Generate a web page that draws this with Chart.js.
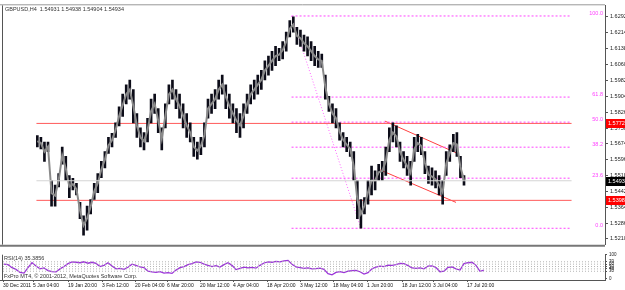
<!DOCTYPE html>
<html>
<head>
<meta charset="utf-8">
<script src="https://cdn.jsdelivr.net/npm/chart.js@4.4.0/dist/chart.umd.min.js"></script>
<style>
  body { margin: 0; background: #fff; }
  #wrap { position: relative; width: 625px; height: 290px; overflow: hidden; }
  #main { position: absolute; left: 0; top: 0; }
  #rsi { position: absolute; left: 0; top: 250px; }
</style>
</head>
<body>
<div id="wrap">
  <canvas id="main" width="625" height="250"></canvas>
  <canvas id="rsi" width="625" height="40"></canvas>
</div>
<script>
// GBPUSD H4, one high/low range per column
var highs = [1.5714, 1.5705, 1.5682, 1.5682, 1.5495, 1.5472, 1.5528, 1.5658, 1.5612, 1.5519,
  1.5505, 1.5481, 1.5388, 1.5323, 1.5370, 1.5402, 1.5481, 1.5528, 1.5588, 1.5635,
  1.5705, 1.5724, 1.5775, 1.5854, 1.5915, 1.5961, 1.5984, 1.5938, 1.5821, 1.5751,
  1.5728, 1.5798, 1.5891, 1.5915, 1.5845, 1.5751, 1.5868, 1.5961, 1.5984, 1.5938,
  1.5915, 1.5868, 1.5821, 1.5775, 1.5705, 1.5682, 1.5705, 1.5775, 1.5891, 1.5915,
  1.5938, 1.5984, 1.6008, 1.5961, 1.5915, 1.5868, 1.5845, 1.5821, 1.5868, 1.5915,
  1.5961, 1.5984, 1.6008, 1.6031, 1.6078, 1.6101, 1.6124, 1.6148, 1.6138, 1.6171,
  1.6217, 1.6273, 1.6292, 1.6241, 1.6227, 1.6203, 1.6194, 1.6171, 1.6148, 1.6124,
  1.6110, 1.6008, 1.5905, 1.5868, 1.5845, 1.5775, 1.5728, 1.5705, 1.5682, 1.5635,
  1.5495, 1.5402, 1.5411, 1.5495, 1.5565, 1.5542, 1.5574, 1.5588, 1.5658, 1.5751,
  1.5775, 1.5761, 1.5682, 1.5635, 1.5612, 1.5588, 1.5705, 1.5719, 1.5705, 1.5635,
  1.5565, 1.5556, 1.5542, 1.5519, 1.5495, 1.5635, 1.5668, 1.5719, 1.5728, 1.5612,
  1.5519];
var lows = [1.5658, 1.5649, 1.5588, 1.5635, 1.5370, 1.5370, 1.5463, 1.5574, 1.5495, 1.5411,
  1.5449, 1.5425, 1.5309, 1.5229, 1.5253, 1.5332, 1.5402, 1.5435, 1.5509, 1.5556,
  1.5626, 1.5658, 1.5705, 1.5761, 1.5807, 1.5868, 1.5891, 1.5775, 1.5705, 1.5658,
  1.5644, 1.5682, 1.5775, 1.5821, 1.5728, 1.5644, 1.5751, 1.5868, 1.5891, 1.5845,
  1.5798, 1.5751, 1.5705, 1.5682, 1.5612, 1.5598, 1.5621, 1.5658, 1.5798, 1.5821,
  1.5845, 1.5891, 1.5915, 1.5845, 1.5798, 1.5775, 1.5728, 1.5705, 1.5751, 1.5821,
  1.5868, 1.5891, 1.5915, 1.5938, 1.5984, 1.6008, 1.6031, 1.6054, 1.6078, 1.6087,
  1.6124, 1.6194, 1.6217, 1.6157, 1.6148, 1.6124, 1.6101, 1.6078, 1.6054, 1.6045,
  1.6045, 1.5891, 1.5831, 1.5775, 1.5751, 1.5691, 1.5658, 1.5635, 1.5612, 1.5495,
  1.5309, 1.5262, 1.5332, 1.5379, 1.5425, 1.5449, 1.5495, 1.5495, 1.5519, 1.5635,
  1.5682, 1.5658, 1.5588, 1.5556, 1.5519, 1.5472, 1.5588, 1.5635, 1.5621, 1.5528,
  1.5481, 1.5472, 1.5458, 1.5425, 1.5379, 1.5519, 1.5588, 1.5635, 1.5612, 1.5509,
  1.5472];
var rsi = [60, 58, 45, 38, 25, 22, 45, 66, 52, 40,
  44, 33, 28, 27, 40, 50, 62, 70, 68, 66,
  70, 64, 68, 63, 50, 55, 66, 52, 40, 42,
  38, 47, 60, 55, 48, 45, 30, 27, 25, 28,
  22, 24, 21, 35, 45, 50, 58, 62, 70, 68,
  60, 55, 50, 54, 48, 58, 66, 55, 37, 42,
  47, 44, 46, 43, 55, 65, 70, 68, 72, 70,
  74, 76, 60, 48, 45, 42, 44, 40, 41, 43,
  38, 20, 15, 25, 28, 24, 30, 33, 34, 28,
  18, 24, 40, 48, 52, 50, 56, 55, 58, 63,
  62, 54, 44, 42, 44, 40, 52, 53, 46, 28,
  30, 46, 48, 40, 35, 62, 66, 68, 55, 30,
  35];

var priceTicks = [1.6292, 1.6214, 1.6138, 1.6060, 1.5982, 1.5904, 1.5826, 1.5750, 1.5674, 1.5596, 1.5518, 1.5442, 1.5364, 1.5286, 1.5210];
var priceTickLabels = ['1.62920', '1.62140', '1.61380', '1.60600', '1.59820', '1.59040', '1.58260', '1.57500', '1.56740', '1.55960', '1.55180', '1.54420', '1.53640', '1.52860', '1.52100'];
var dateTicks = [-0.25, 7.25, 16, 24.5, 32.75, 40.75, 49, 57.25, 65.75, 74, 82.25, 90.75, 99.5, 107.25, 115.75];
var dateLabels = ['30 Dec 2011', '5 Jan 04:00', '19 Jan 20:00', '3 Feb 12:00', '20 Feb 04:00', '6 Mar 20:00', '20 Mar 12:00', '4 Apr 04:00', '18 Apr 20:00', '3 May 12:00', '18 May 04:00', '1 Jun 20:00', '18 Jun 12:00', '3 Jul 04:00', '17 Jul 20:00'];
var rsiTicks = [100, 70, 60, 50, 40, 30, 0];
var rsiLevels = [70, 60, 50, 40, 30];

// fibonacci retracement from the April high to the May low
var fibHigh = 1.6296, fibLow = 1.5262;
var fibStart = 71.5, fibEnd = 91;
var fibRatios = [1, 0.618, 0.5, 0.382, 0.236, 0];
var fibLabels = ['100.0', '61.8', '50.0', '38.2', '23.6', '0.0'];

var redLevels = [1.57727, 1.53980];
var redLabels = ['1.57727', '1.53980'];
var lastPrice = 1.54934;
var lastLabel = '1.54934';
var channelTop = [[97.75, 1.5784], [118.25, 1.5626]];
var channelBottom = [[95.75, 1.5551], [117.75, 1.5388]];

var titleText = 'GBPUSD,H4  1.54931 1.54938 1.54904 1.54934';
var xMin = -0.25, xMax = 150.25;
var FONT = '"Liberation Sans", Arial, sans-serif';

Chart.defaults.font.family = FONT;
Chart.defaults.font.size = 5;
Chart.defaults.color = '#000';

function hline(y, x0, x1, color, dash) {
  return {
    type: 'line',
    data: [{ x: x0, y: y }, { x: x1, y: y }],
    borderColor: color, borderWidth: 1, borderDash: dash || [],
    pointRadius: 0, fill: false
  };
}
function segment(p, color, dash) {
  return {
    type: 'line',
    data: [{ x: p[0][0], y: p[0][1] }, { x: p[1][0], y: p[1][1] }],
    borderColor: color, borderWidth: 1, borderDash: dash || [],
    pointRadius: 0, fill: false
  };
}

var bars = [], mids = [];
for (var i = 0; i < highs.length; i++) {
  bars.push({ x: i, y: [lows[i], highs[i]] });
  mids.push({ x: i, y: (lows[i] + highs[i]) / 2 });
}

var mainSets = [];
mainSets.push(hline(lastPrice, xMin, xMax, '#d4d4d4'));
mainSets.push({
  type: 'line', data: mids, borderColor: '#8a8a8a', borderWidth: 2,
  pointRadius: 0, fill: false
});
mainSets.push({
  type: 'bar', data: bars, backgroundColor: '#0c0c18',
  barThickness: 2, borderWidth: 0
});
redLevels.forEach(function (v) { mainSets.push(hline(v, xMin, xMax, '#ff5a5a')); });
fibRatios.forEach(function (r) {
  mainSets.push(hline(fibLow + r * (fibHigh - fibLow), fibStart, xMax, '#ff44ff', [2, 2]));
});
mainSets.push(segment([[fibStart, fibHigh], [fibEnd, fibLow]], '#ff66ff', [1, 2]));
mainSets.push(segment(channelTop, '#ff4040'));
mainSets.push(segment(channelBottom, '#ff4040'));

var frame = {
  id: 'frame',
  afterDraw: function (chart) {
    var ctx = chart.ctx, a = chart.chartArea;
    ctx.save();
    ctx.strokeStyle = '#555';
    ctx.lineWidth = 1;
    ctx.beginPath();
    ctx.moveTo(a.left - 0.5, a.top);
    ctx.lineTo(a.left - 0.5, a.bottom);
    ctx.stroke();
    if (chart.canvas.id === 'main') {
      ctx.strokeStyle = '#777';
      ctx.lineWidth = 2;
      ctx.beginPath();
      ctx.moveTo(0, a.bottom + 1);
      ctx.lineTo(a.right, a.bottom + 1);
      ctx.stroke();
      ctx.strokeStyle = '#999';
      ctx.lineWidth = 1;
      ctx.beginPath();
      ctx.moveTo(0, a.top - 0.5);
      ctx.lineTo(a.right, a.top - 0.5);
      ctx.stroke();
    }
    ctx.restore();
  }
};

var overlay = {
  id: 'overlay',
  afterDraw: function (chart) {
    var ctx = chart.ctx, a = chart.chartArea, ys = chart.scales.y;
    ctx.save();
    ctx.font = '5.5px ' + FONT;
    ctx.fillStyle = '#333';
    ctx.textAlign = 'left';
    ctx.textBaseline = 'top';
    ctx.fillText(titleText, a.left + 2, a.top + 1);

    ctx.fillStyle = '#ff40ff';
    ctx.textAlign = 'right';
    ctx.textBaseline = 'bottom';
    fibRatios.forEach(function (r, k) {
      ctx.fillText(fibLabels[k], a.right - 2, ys.getPixelForValue(fibLow + r * (fibHigh - fibLow)));
    });

    function box(v, txt, bg) {
      var y = Math.round(ys.getPixelForValue(v));
      ctx.fillStyle = bg;
      ctx.fillRect(a.right + 1, y - 4, 625 - a.right, 9);
      ctx.fillStyle = '#fff';
      ctx.textAlign = 'left';
      ctx.textBaseline = 'middle';
      ctx.fillText(txt, a.right + 3, y + 0.5);
    }
    redLevels.forEach(function (v, k) { box(v, redLabels[k], '#ff0000'); });
    box(lastPrice, lastLabel, '#000');
    ctx.restore();
  }
};

new Chart(document.getElementById('main'), {
  type: 'bar',
  data: { datasets: mainSets },
  options: {
    responsive: false,
    animation: false,
    layout: { padding: { left: 3, top: 2, bottom: 2, right: 0 } },
    plugins: { legend: { display: false }, tooltip: { enabled: false } },
    scales: {
      x: { type: 'linear', min: xMin, max: xMax, display: false },
      y: {
        position: 'right', min: 1.5182, max: 1.6348,
        afterFit: function (s) { s.width = 20; },
        afterBuildTicks: function (s) { s.ticks = priceTicks.map(function (v) { return { value: v }; }); },
        ticks: {
          autoSkip: false, padding: 2, color: '#222', font: { size: 5.5 },
          callback: function (v, idx) { return priceTickLabels[idx]; }
        },
        grid: { drawOnChartArea: false, drawTicks: true, tickLength: 3, color: '#555' },
        border: { display: true, color: '#555' }
      }
    }
  },
  plugins: [frame, overlay]
});

var rsiSets = [];
rsiLevels.forEach(function (v) { rsiSets.push(hline(v, xMin, xMax, '#b4b4b4', [1, 2])); });
rsiSets.push({
  type: 'line',
  data: rsi.map(function (v, k) { return { x: k, y: v }; }),
  borderColor: '#9b35d8', borderWidth: 1.3, pointRadius: 0, fill: false, tension: 0
});

var rsiText = {
  id: 'rsiText',
  afterDraw: function (chart) {
    var ctx = chart.ctx, a = chart.chartArea;
    ctx.save();
    ctx.font = '5.5px ' + FONT;
    ctx.fillStyle = '#333';
    ctx.textAlign = 'left';
    ctx.textBaseline = 'top';
    ctx.fillText('RSI(14) 35.3856', a.left + 1, a.top + 1);
    ctx.textBaseline = 'bottom';
    ctx.fillText('FxPro MT4, \u00a9 2001-2012, MetaQuotes Software Corp.', a.left + 1, a.bottom - 1);
    ctx.strokeStyle = '#555';
    ctx.lineWidth = 1;
    ctx.beginPath();
    ctx.moveTo(0, a.bottom + 0.5);
    ctx.lineTo(a.right, a.bottom + 0.5);
    ctx.stroke();
    ctx.restore();
  }
};

new Chart(document.getElementById('rsi'), {
  type: 'line',
  data: { datasets: rsiSets },
  options: {
    responsive: false,
    animation: false,
    layout: { padding: { left: 3, top: 1, bottom: 0, right: 0 } },
    plugins: { legend: { display: false }, tooltip: { enabled: false } },
    scales: {
      x: {
        type: 'linear', min: xMin, max: xMax,
        afterFit: function (s) { s.height = 10; },
        afterBuildTicks: function (s) { s.ticks = dateTicks.map(function (v) { return { value: v }; }); },
        ticks: {
          autoSkip: false, maxRotation: 0, align: 'start', padding: 1, color: '#111',
          callback: function (v, idx) { return dateLabels[idx]; }
        },
        grid: { drawOnChartArea: false, drawTicks: true, tickLength: 2, color: '#555' },
        border: { display: true, color: '#555' }
      },
      y: {
        position: 'right', min: -7, max: 100,
        afterFit: function (s) { s.width = 20; },
        afterBuildTicks: function (s) { s.ticks = rsiTicks.map(function (v) { return { value: v }; }); },
        ticks: { autoSkip: false, padding: 2, color: '#222', font: { size: 4.5 } },
        grid: { drawOnChartArea: false, drawTicks: true, tickLength: 2, color: '#555' },
        border: { display: true, color: '#555' }
      }
    }
  },
  plugins: [frame, rsiText]
});
</script>
</body>
</html>
